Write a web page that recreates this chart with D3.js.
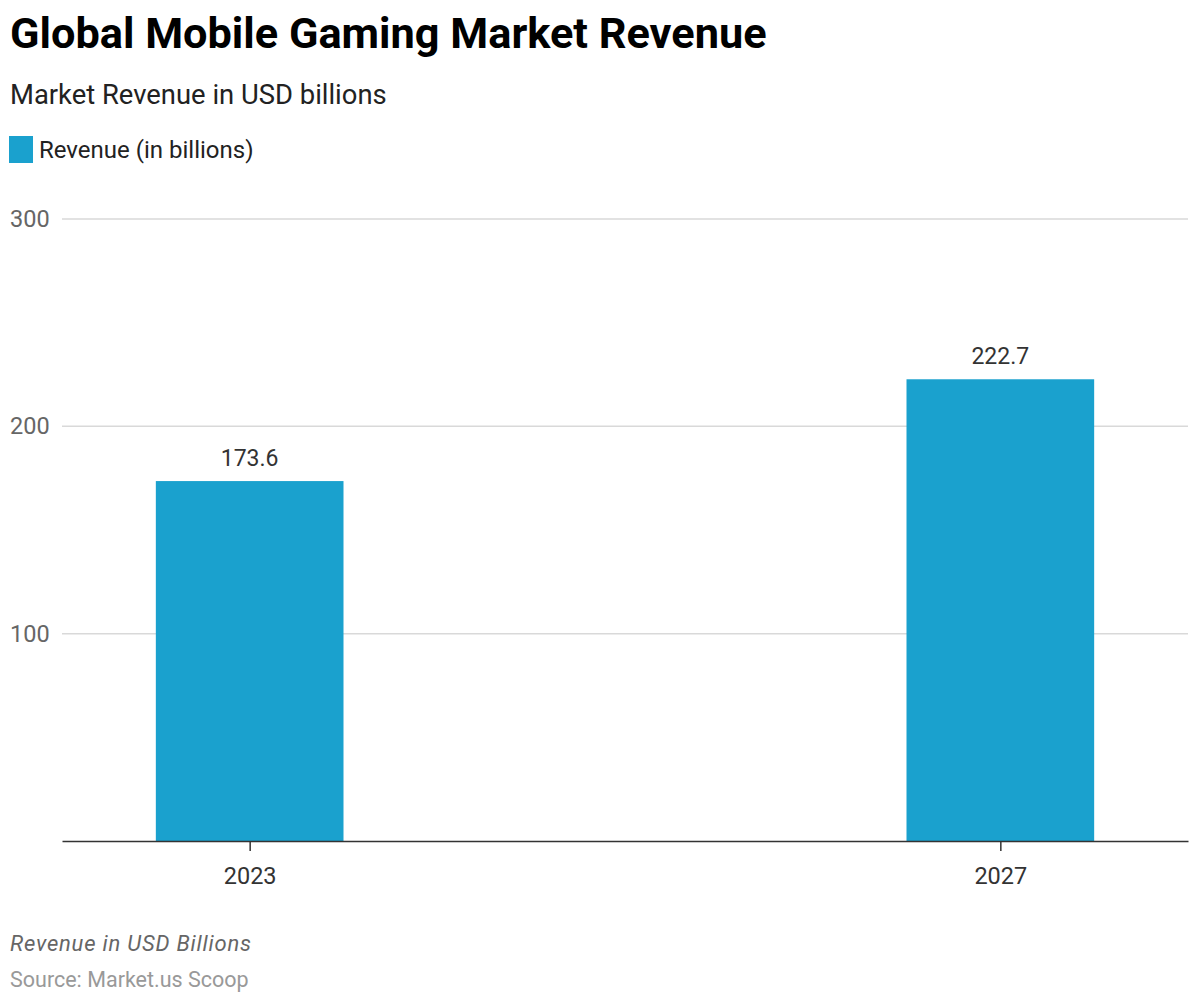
<!DOCTYPE html>
<html>
<head>
<meta charset="utf-8">
<script src="https://cdn.jsdelivr.net/npm/d3@7"></script>
<style>
  body { margin: 0; background: #fff; }
  text { font-family: Roboto, "Noto Sans", Arial, sans-serif; }
</style>
</head>
<body>
<script>
// data
var years = ["2023", "2027"];
var revenue = [173.6, 222.7];
var yTicks = [100, 200, 300];
var seriesName = "Revenue (in billions)";

var W = 1200, H = 1003;
var margin = {left: 62, right: 12, top: 219, bottom: 162};
var width = W - margin.left - margin.right;
var height = H - margin.top - margin.bottom;
var barColor = "#1aa1ce";

var svg = d3.select("body").append("svg")
    .attr("width", W)
    .attr("height", H);

// titles
svg.append("text")
    .attr("x", 10).attr("y", 48)
    .style("font-size", "43.3px").style("font-weight", "bold").attr("fill", "#000")
    .text("Global Mobile Gaming Market Revenue");

svg.append("text")
    .attr("x", 10).attr("y", 104)
    .style("font-size", "27.4px").attr("fill", "#222")
    .text("Market Revenue in USD billions");

// legend
svg.append("rect")
    .attr("x", 9).attr("y", 136).attr("width", 24).attr("height", 27)
    .attr("fill", barColor);
svg.append("text")
    .attr("x", 39).attr("y", 158)
    .style("font-size", "24px").attr("fill", "#222")
    .text(seriesName);

var g = svg.append("g")
    .attr("transform", "translate(" + margin.left + "," + margin.top + ")");

var x = d3.scalePoint()
    .domain(years)
    .range([0, width])
    .padding(0.25);

var barWidth = x.step() * 0.25;

var y = d3.scaleLinear()
    .domain([0, 300])
    .range([height, 0]);

// gridlines
g.selectAll(".grid")
    .data(yTicks)
    .enter().append("line")
    .attr("x1", 0).attr("x2", width)
    .attr("y1", function(d) { return y(d); })
    .attr("y2", function(d) { return y(d); })
    .attr("stroke", "#d9d9d9").attr("stroke-width", 1.5);

// y labels
g.selectAll(".ylab")
    .data(yTicks)
    .enter().append("text")
    .attr("x", -52)
    .attr("y", function(d) { return y(d) + 8; })
    .style("font-size", "23.5px").attr("fill", "#666")
    .text(function(d) { return d; });

// bars
var data = years.map(function(d, i) { return {year: d, value: revenue[i]}; });

g.selectAll(".bar")
    .data(data)
    .enter().append("rect")
    .attr("x", function(d) { return x(d.year) - barWidth / 2; })
    .attr("y", function(d) { return y(d.value); })
    .attr("width", barWidth)
    .attr("height", function(d) { return height - y(d.value); })
    .attr("fill", barColor);

// value labels
g.selectAll(".val")
    .data(data)
    .enter().append("text")
    .attr("x", function(d) { return x(d.year); })
    .attr("y", function(d) { return y(d.value) - 15; })
    .attr("text-anchor", "middle")
    .style("font-size", "23px").attr("fill", "#333")
    .text(function(d) { return d.value.toFixed(1); });

// x axis
var xAxis = g.append("g")
    .attr("transform", "translate(0," + height + ")")
    .call(d3.axisBottom(x).tickSize(10).tickSizeOuter(0));
xAxis.select(".domain").attr("stroke", "#333").attr("stroke-width", 1.5);
xAxis.selectAll(".tick line").attr("stroke", "#333").attr("stroke-width", 1.5);
xAxis.selectAll(".tick text")
    .attr("y", 26)
    .style("font-size", "23.5px")
    .style("font-family", "Roboto, sans-serif")
    .attr("fill", "#333");

// footer
svg.append("text")
    .attr("x", 10).attr("y", 951)
    .style("font-size", "22px").style("font-style", "italic")
    .style("letter-spacing", "0.8px").attr("fill", "#666")
    .text("Revenue in USD Billions");

svg.append("text")
    .attr("x", 10).attr("y", 987)
    .style("font-size", "21.5px").attr("fill", "#999")
    .text("Source: Market.us Scoop");
</script>
</body>
</html>
